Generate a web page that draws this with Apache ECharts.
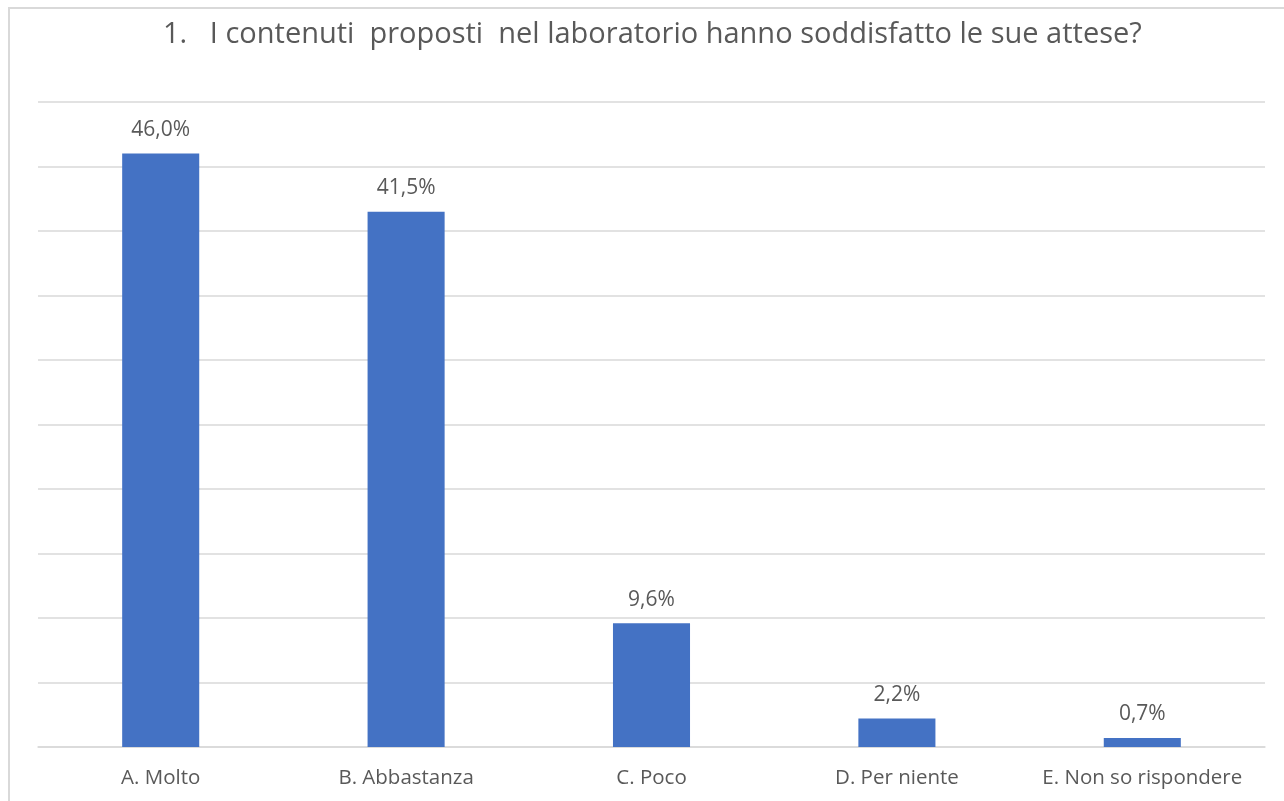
<!DOCTYPE html>
<html>
<head>
<meta charset="utf-8">
<script src="https://cdn.jsdelivr.net/npm/echarts@6/dist/echarts.min.js"></script>
<style>
html,body{margin:0;padding:0;background:#fff;}
#chart{width:1284px;height:801px;}
</style>
</head>
<body>
<div id="chart"></div>
<script>
const titleText = "1.   I contenuti  proposti  nel laboratorio hanno soddisfatto le sue attese?";
const categories = ["A. Molto", "B. Abbastanza", "C. Poco", "D. Per niente", "E. Non so rispondere"];
const values = [46.0, 41.5, 9.6, 2.2, 0.7];
const axisMin = 0, axisMax = 50, axisInterval = 5;

const FONT = "'Open Sans', sans-serif";
const TXT = "#595959";
const chart = echarts.init(document.getElementById('chart'), null, {renderer: 'canvas'});
chart.setOption({
  animation: false,
  backgroundColor: '#ffffff',
  title: {
    text: titleText,
    left: 158,
    top: 15,
    textStyle: {fontFamily: FONT, fontSize: 29, fontWeight: 'normal', color: TXT}
  },
  graphic: [{
    type: 'rect', silent: true, z: -1,
    shape: {x: 9, y: 8, width: 1400, height: 900},
    style: {fill: 'none', stroke: '#d9d9d9', lineWidth: 2}
  }],
  grid: {left: 38, right: 19, top: 102, bottom: 54, containLabel: false},
  xAxis: {
    type: 'category',
    data: categories,
    axisTick: {show: false},
    axisLine: {show: true, lineStyle: {color: '#d9d9d9', width: 1.5}},
    axisLabel: {fontFamily: FONT, fontSize: 20.5, color: TXT, margin: 21, interval: 0, hideOverlap: false}
  },
  yAxis: {
    type: 'value',
    min: axisMin, max: axisMax, interval: axisInterval,
    axisLabel: {show: false},
    axisLine: {show: false},
    axisTick: {show: false},
    splitLine: {lineStyle: {color: '#d9d9d9', width: 1.5}}
  },
  series: [{
    type: 'bar',
    data: values,
    barWidth: '31.4%',
    itemStyle: {color: '#4472C4'},
    label: {
      show: true, position: 'top', distance: 13,
      fontFamily: FONT, fontSize: 21, color: TXT,
      formatter: p => p.value.toFixed(1).replace('.', ',') + '%'
    }
  }]
});
</script>
</body>
</html>
